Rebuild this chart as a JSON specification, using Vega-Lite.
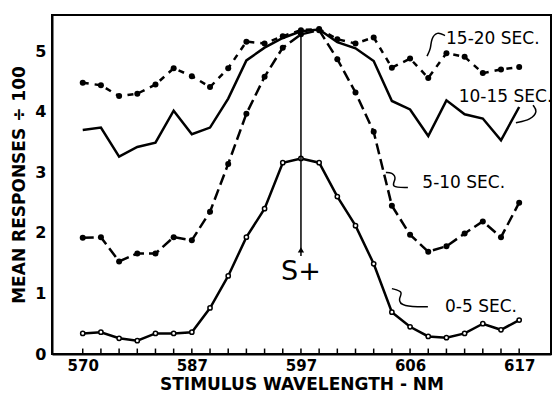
{
  "$schema": "https://vega.github.io/schema/vega-lite/v6.json",
  "width": 499,
  "height": 339,
  "autosize": "none",
  "padding": {"left": 52, "top": 15, "right": 6, "bottom": 44},
  "background": "white",
  "config": {
    "view": {"stroke": "black", "strokeWidth": 2},
    "font": "DejaVu Sans"
  },
  "datasets": {
    "curves": [
      {"i": 0, "s15_20": 4.48, "s10_15": 3.70, "s5_10": 1.92, "s0_5": 0.34},
      {"i": 1, "s15_20": 4.44, "s10_15": 3.74, "s5_10": 1.93, "s0_5": 0.36},
      {"i": 2, "s15_20": 4.26, "s10_15": 3.26, "s5_10": 1.53, "s0_5": 0.26},
      {"i": 3, "s15_20": 4.30, "s10_15": 3.42, "s5_10": 1.66, "s0_5": 0.22},
      {"i": 4, "s15_20": 4.45, "s10_15": 3.49, "s5_10": 1.66, "s0_5": 0.34},
      {"i": 5, "s15_20": 4.72, "s10_15": 4.02, "s5_10": 1.93, "s0_5": 0.34},
      {"i": 6, "s15_20": 4.59, "s10_15": 3.63, "s5_10": 1.88, "s0_5": 0.36},
      {"i": 7, "s15_20": 4.41, "s10_15": 3.74, "s5_10": 2.35, "s0_5": 0.76},
      {"i": 8, "s15_20": 4.72, "s10_15": 4.22, "s5_10": 3.14, "s0_5": 1.29},
      {"i": 9, "s15_20": 5.16, "s10_15": 4.85, "s5_10": 3.97, "s0_5": 1.93},
      {"i": 10, "s15_20": 5.13, "s10_15": 5.06, "s5_10": 4.58, "s0_5": 2.40},
      {"i": 11, "s15_20": 5.25, "s10_15": 5.22, "s5_10": 5.06, "s0_5": 3.16},
      {"i": 12, "s15_20": 5.35, "s10_15": 5.33, "s5_10": 5.28, "s0_5": 3.23},
      {"i": 13, "s15_20": 5.37, "s10_15": 5.36, "s5_10": 5.35, "s0_5": 3.16},
      {"i": 14, "s15_20": 5.20, "s10_15": 5.15, "s5_10": 4.87, "s0_5": 2.60},
      {"i": 15, "s15_20": 5.13, "s10_15": 5.05, "s5_10": 4.32, "s0_5": 2.12},
      {"i": 16, "s15_20": 5.23, "s10_15": 4.84, "s5_10": 3.67, "s0_5": 1.49},
      {"i": 17, "s15_20": 4.73, "s10_15": 4.18, "s5_10": 2.45, "s0_5": 0.69},
      {"i": 18, "s15_20": 4.88, "s10_15": 4.04, "s5_10": 1.97, "s0_5": 0.45},
      {"i": 19, "s15_20": 4.56, "s10_15": 3.60, "s5_10": 1.69, "s0_5": 0.29},
      {"i": 20, "s15_20": 4.97, "s10_15": 4.19, "s5_10": 1.78, "s0_5": 0.27},
      {"i": 21, "s15_20": 4.91, "s10_15": 3.96, "s5_10": 1.99, "s0_5": 0.34},
      {"i": 22, "s15_20": 4.64, "s10_15": 3.89, "s5_10": 2.19, "s0_5": 0.50},
      {"i": 23, "s15_20": 4.70, "s10_15": 3.53, "s5_10": 1.93, "s0_5": 0.40},
      {"i": 24, "s15_20": 4.74, "s10_15": 4.08, "s5_10": 2.50, "s0_5": 0.56}
    ],
    "labels": [
      {"i": 22.55, "y": 5.2, "text": "15-20 SEC."},
      {"i": 23.25, "y": 4.25, "text": "10-15 SEC."},
      {"i": 20.95, "y": 2.83, "text": "5-10 SEC."},
      {"i": 21.9, "y": 0.78, "text": "0-5 SEC."}
    ],
    "curls": [
      {"c": "a", "k": 0, "i": 19.92, "y": 5.26},
      {"c": "a", "k": 1, "i": 19.48, "y": 5.33},
      {"c": "a", "k": 2, "i": 19.15, "y": 5.2},
      {"c": "a", "k": 3, "i": 19.15, "y": 5.05},
      {"c": "a", "k": 4, "i": 18.93, "y": 4.92},
      {"c": "b", "k": 0, "i": 24.76, "y": 4.11},
      {"c": "b", "k": 1, "i": 25.03, "y": 4.01},
      {"c": "b", "k": 2, "i": 24.64, "y": 3.87},
      {"c": "b", "k": 3, "i": 23.82, "y": 3.82},
      {"c": "c", "k": 0, "i": 17.88, "y": 2.75},
      {"c": "c", "k": 1, "i": 16.89, "y": 2.75},
      {"c": "c", "k": 2, "i": 17.28, "y": 2.9},
      {"c": "c", "k": 3, "i": 17.0, "y": 3.0},
      {"c": "c", "k": 4, "i": 16.67, "y": 3.0},
      {"c": "d", "k": 0, "i": 18.98, "y": 0.78},
      {"c": "d", "k": 1, "i": 17.55, "y": 0.78},
      {"c": "d", "k": 2, "i": 17.33, "y": 0.91},
      {"c": "d", "k": 3, "i": 17.66, "y": 1.03},
      {"c": "d", "k": 4, "i": 17.0, "y": 1.08}
    ]
  },
  "encoding": {
    "x": {
      "field": "i", "type": "quantitative",
      "scale": {"domain": [-1.69, 25.75], "nice": false, "zero": false},
      "axis": {
        "title": "STIMULUS WAVELENGTH - NM",
        "titleFont": "DejaVu Sans", "titleFontSize": 17, "titleFontWeight": "bold", "titlePadding": 3,
        "values": [0, 6, 12, 18, 24],
        "labelExpr": "datum.value==0?'570':datum.value==6?'587':datum.value==12?'597':datum.value==18?'606':'617'",
        "labelFont": "DejaVu Sans", "labelFontSize": 15, "labelFontWeight": "bold", "labelColor": "black",
        "ticks": false, "labelPadding": 4,
        "domainColor": "black", "domainWidth": 2, "grid": false, "labelOverlap": false
      }
    },
    "y": {
      "type": "quantitative",
      "scale": {"domain": [0, 5.6], "nice": false},
      "axis": {
        "title": "MEAN RESPONSES ÷ 100",
        "titleFont": "DejaVu Sans", "titleFontSize": 17, "titleFontWeight": "bold", "titlePadding": 6,
        "values": [0, 1, 2, 3, 4, 5],
        "labelFont": "DejaVu Sans", "labelFontSize": 16, "labelFontWeight": "bold", "labelColor": "black",
        "ticks": false, "labelPadding": 6,
        "domainColor": "black", "domainWidth": 2, "grid": false
      }
    }
  },
  "layer": [
    {"data": {"name": "curves"}, "mark": {"type": "rule", "color": "black", "strokeWidth": 1.5}, "encoding": {"y": {"datum": 0}, "y2": {"datum": 0.09}}},
    {"data": {"values": [{"v": 0}, {"v": 1}, {"v": 2}, {"v": 3}, {"v": 4}, {"v": 5}]}, "mark": {"type": "rule", "color": "black", "strokeWidth": 1.5}, "encoding": {"x": {"datum": -1.69}, "x2": {"datum": -1.33}, "y": {"field": "v"}}},
    {"data": {"name": "curves"}, "mark": {"type": "line", "color": "black", "strokeWidth": 2.5, "strokeDash": [6, 6]}, "encoding": {"y": {"field": "s15_20"}}},
    {"data": {"name": "curves"}, "mark": {"type": "point", "filled": true, "color": "black", "size": 36, "opacity": 1}, "encoding": {"y": {"field": "s15_20"}}},
    {"data": {"name": "curves"}, "mark": {"type": "line", "color": "black", "strokeWidth": 2.5}, "encoding": {"y": {"field": "s10_15"}}},
    {"data": {"name": "curves"}, "mark": {"type": "line", "color": "black", "strokeWidth": 2.5, "strokeDash": [11, 5]}, "encoding": {"y": {"field": "s5_10"}}},
    {"data": {"name": "curves"}, "mark": {"type": "point", "filled": true, "color": "black", "size": 36, "opacity": 1}, "encoding": {"y": {"field": "s5_10"}}},
    {"data": {"name": "curves"}, "mark": {"type": "line", "color": "black", "strokeWidth": 2.5}, "encoding": {"y": {"field": "s0_5"}}},
    {"data": {"name": "curves"}, "mark": {"type": "point", "fill": "white", "stroke": "black", "strokeWidth": 1.5, "size": 18, "opacity": 1}, "encoding": {"y": {"field": "s0_5"}}},
    {"data": {"values": [{"i": 12, "y": 1.62, "y2": 5.38}]}, "mark": {"type": "rule", "color": "black", "strokeWidth": 1.5}, "encoding": {"y": {"field": "y"}, "y2": {"field": "y2"}}},
    {"data": {"values": [{"i": 12, "y": 1.72}]}, "mark": {"type": "point", "shape": "triangle-up", "filled": true, "color": "black", "size": 40, "opacity": 1}, "encoding": {"y": {"field": "y"}}},
    {"data": {"values": [{"i": 12, "y": 1.36, "text": "S+"}]}, "mark": {"type": "text", "fontSize": 27, "font": "DejaVu Sans", "color": "black"}, "encoding": {"y": {"field": "y"}, "text": {"field": "text"}}},
    {"data": {"name": "labels"}, "mark": {"type": "text", "fontSize": 17, "font": "DejaVu Sans", "color": "black"}, "encoding": {"y": {"field": "y"}, "text": {"field": "text"}}},
    {"data": {"name": "curls"}, "mark": {"type": "line", "color": "black", "strokeWidth": 1.5, "interpolate": "basis"}, "encoding": {"y": {"field": "y"}, "detail": {"field": "c"}, "order": {"field": "k"}}}
  ]
}
